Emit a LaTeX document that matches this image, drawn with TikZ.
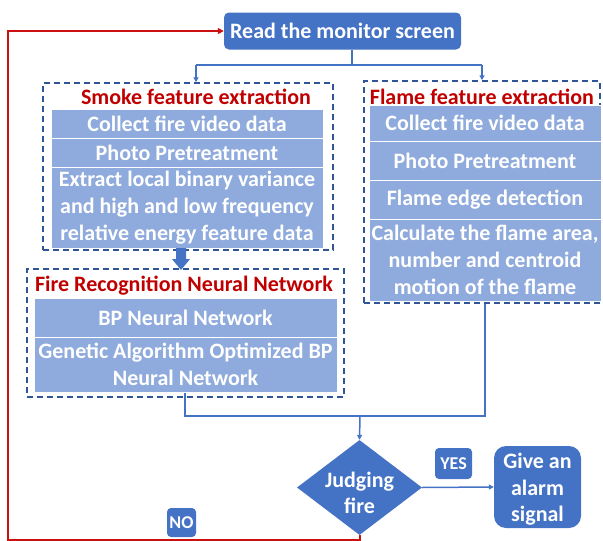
\documentclass[tikz,border=0pt]{standalone}
\usepackage{fontspec}
\setmainfont{Carlito}
\usetikzlibrary{shapes.geometric,arrows.meta,calc}
\definecolor{dblue}{RGB}{68,114,196}
\definecolor{lblue}{RGB}{143,170,220}
\definecolor{dashblue}{RGB}{47,85,151}
\definecolor{tred}{RGB}{192,0,0}
\definecolor{lred}{RGB}{204,16,16}
\begin{document}
\begin{tikzpicture}[x=1pt,y=-1pt,
 bluebox/.style={fill=dblue, text=white, rounded corners=5pt, inner sep=0pt, align=center},
 rowbox/.style={fill=lblue, draw=white, line width=1pt, text=white, inner sep=0pt, align=center, font=\fontsize{22}{27}\selectfont\bfseries},
 dashbox/.style={draw=dashblue, line width=1.5pt, dash pattern=on 6pt off 4pt, inner sep=0pt},
 titletext/.style={text=tred, font=\fontsize{22}{25}\selectfont\bfseries, inner sep=0pt},
 conn/.style={draw=dblue, line width=1.5pt},
 arr/.style={conn, -{Triangle[length=5pt,width=5pt]}},
 redline/.style={draw=lred, line width=2pt, -{Triangle[length=6pt,width=6pt]}},
 whitetext/.style={text=white, inner sep=0pt, align=center},
]
\useasboundingbox (0,0) rectangle (603,541);

\node[bluebox, minimum width=237pt, minimum height=37pt, font=\fontsize{22}{25}\selectfont\bfseries] (read) at (342.5,31) {Read the monitor screen};

% smoke
\node[dashbox, minimum width=290pt, minimum height=167pt] (smokebox) at (188,166.5) {};
\node[titletext] (smoket) at (196,97) {Smoke feature extraction};
\node[rowbox, minimum width=272pt, minimum height=29pt] (s1) at (187,123.5) {Collect fire video data};
\node[rowbox, minimum width=272pt, minimum height=29pt] (s2) at (187,152.5) {Photo Pretreatment};
\node[rowbox, minimum width=272pt, minimum height=81pt] (s3) at (187,207.5) {Extract local binary variance\\and high and low frequency\\relative energy feature data};

% flame
\node[dashbox, minimum width=236pt, minimum height=222pt] (flamebox) at (482,192) {};
\node[titletext] (flamet) at (482,97) {Flame feature extraction};
\node[rowbox, minimum width=232pt, minimum height=36pt] (l1) at (485,123) {Collect fire video data};
\node[rowbox, minimum width=232pt, minimum height=39pt] (l2) at (485,160.5) {Photo Pretreatment};
\node[rowbox, minimum width=232pt, minimum height=39pt] (l3) at (485,199.5) {Flame edge detection};
\node[rowbox, minimum width=232pt, minimum height=82pt] (l4) at (485,260) {Calculate the flame area,\\number and centroid\\motion of the flame};

% fire recognition
\node[dashbox, minimum width=317pt, minimum height=128pt] (firebox) at (185.5,333) {};
\node[titletext] (firet) at (184,286) {Fire Recognition Neural Network};
\node[rowbox, minimum width=303pt, minimum height=39pt] (f1) at (185.5,317.5) {BP Neural Network};
\node[rowbox, minimum width=303pt, minimum height=55pt] (f2) at (185.5,364.5) {Genetic Algorithm Optimized BP\\Neural Network};

% decision
\node[diamond, fill=dblue, minimum width=125pt, minimum height=95pt, inner sep=0pt] (judge) at (359.5,487.5) {};
\node[whitetext, font=\fontsize{22}{26}\selectfont\bfseries] (judgetext) at ($(judge.center)+(0,5)$) {Judging\\fire};
\node[bluebox, rounded corners=4pt, minimum width=37pt, minimum height=31pt, font=\fontsize{18}{20}\selectfont\bfseries] (yes) at (453.5,463.5) {YES};
\node[bluebox, rounded corners=4pt, minimum width=29pt, minimum height=29pt, font=\fontsize{18}{20}\selectfont\bfseries] (no) at (181.5,522.5) {NO};
\node[bluebox, rounded corners=12pt, minimum width=87pt, minimum height=82pt] (alarm) at (537.5,487) {};
\node[whitetext, font=\fontsize{22}{26.5}\selectfont\bfseries] (alarmtext) at ($(alarm.center)+(0,2.5)$) {Give an\\alarm\\signal};

% connectors
\coordinate (split) at (352,65);
\coordinate (sa) at (196,65);
\coordinate (fa) at (482,65);
\draw[conn] (read.south -| split) -- (split);
\draw[conn] (sa) -- (fa);
\draw[arr] (sa) -- (sa |- smokebox.north);
\draw[arr] (fa) -- (flamebox.north);

\coordinate (bigtip) at (181,270);
\fill[dblue] (bigtip) -- ++(-9,-11) -- ++(4,0) -- ++(0,-11) -- ++(10,0) -- ++(0,11) -- ++(4,0) -- cycle;

\coordinate (fx) at (185,0);
\coordinate (lx) at (485,0);
\coordinate (junc) at (360,416);
\draw[conn] (f2.south -| fx) |- (junc) -| (flamebox.south -| lx);
\draw[arr] (junc) -- (judge.north);
\draw[arr] (judge.east) -- (alarm.west);

\coordinate (rb) at (359.5,540);
\coordinate (rl) at (8,540);
\coordinate (rt) at (8,31);
\draw[redline] (judge.south) -- (rb) -- (rl) -- (rt) -- (read.west |- rt);
\end{tikzpicture}
\end{document}
